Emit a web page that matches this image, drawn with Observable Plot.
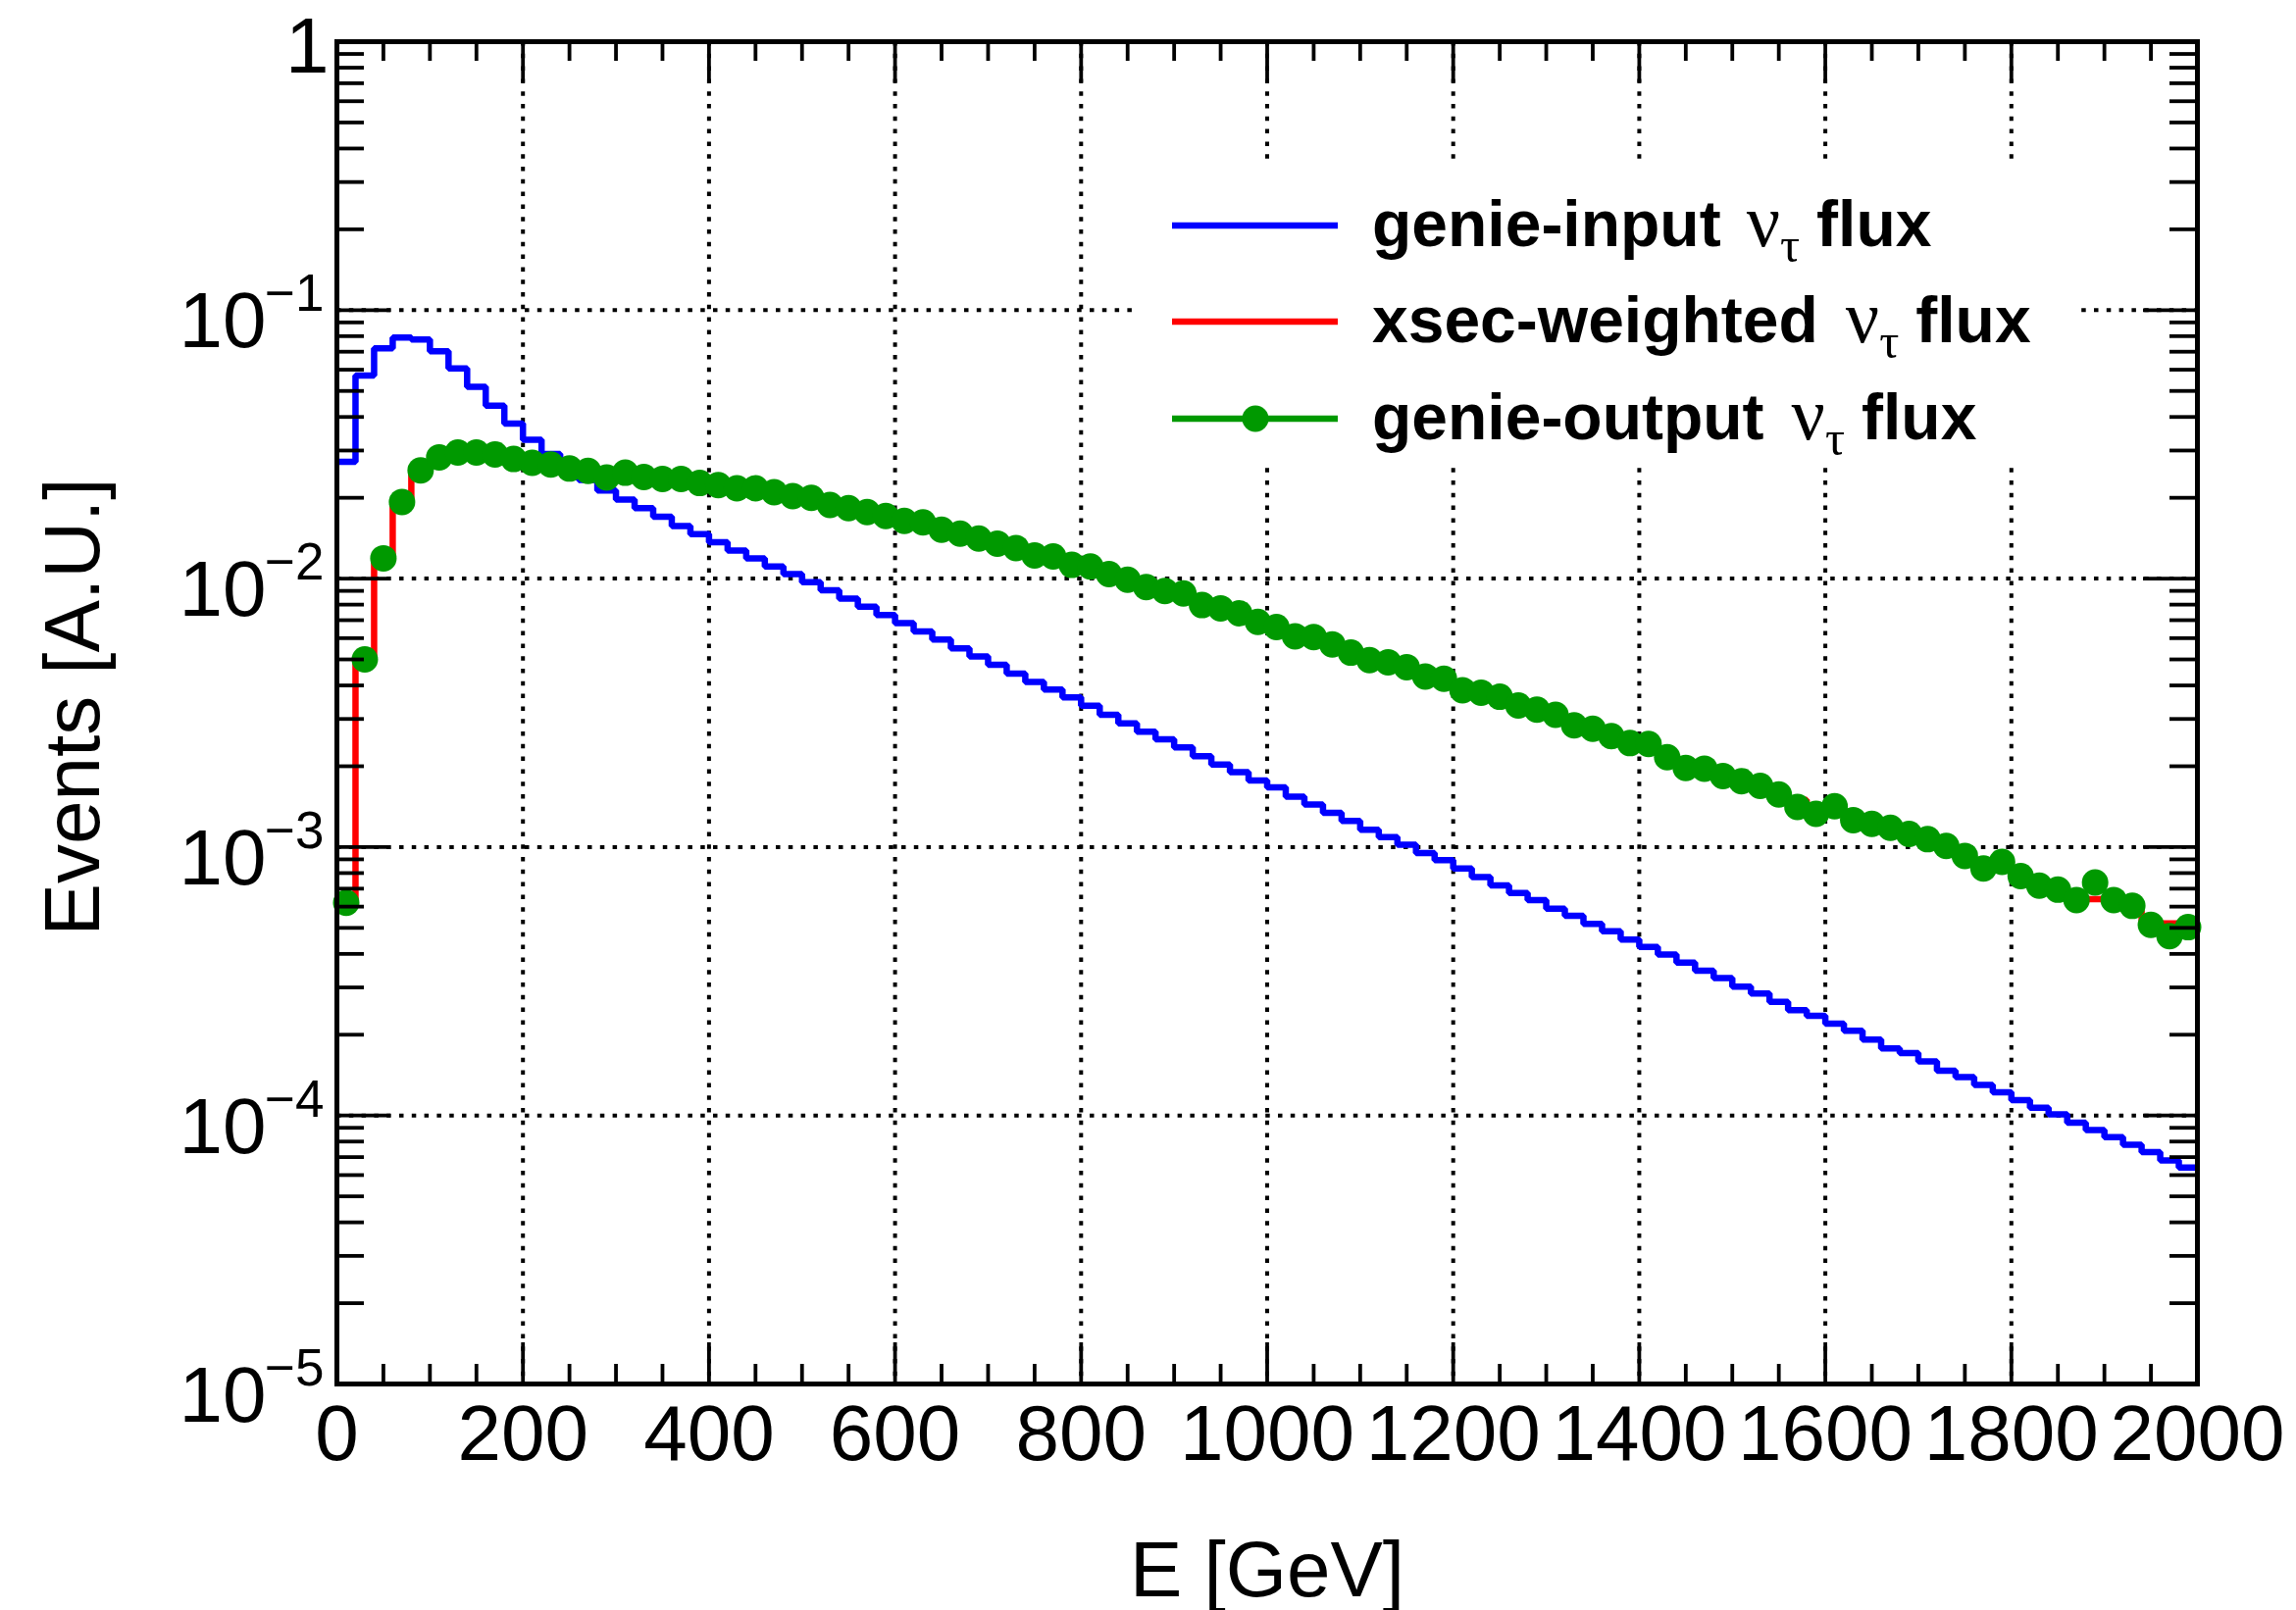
<!DOCTYPE html>
<html>
<head>
<meta charset="utf-8">
<script src="https://cdn.jsdelivr.net/npm/d3@7"></script>
<script src="https://cdn.jsdelivr.net/npm/@observablehq/plot@0.6"></script>
<style>
  html, body { margin: 0; padding: 0; background: #ffffff; }
  #chart svg { display: block; }
</style>
</head>
<body>
<div id="chart"></div>
<script>
// Energy binning: 100 bins of 20 GeV between 0 and 2000 GeV
const binWidth = 20;
const eMax = 2000;
const binLow = d3.range(0, eMax, binWidth);

// genie-input nu_tau flux (histogram, per bin)
const genieInput = [
  0.0272, 0.0571, 0.0721, 0.0790, 0.0778, 0.0703, 0.0606, 0.0518, 0.0441, 0.0378,
  0.0329, 0.0291, 0.0261, 0.0233, 0.0213, 0.0197, 0.0183, 0.0170, 0.0157, 0.01465,
  0.01365, 0.01273, 0.01188, 0.0111, 0.0104, 0.0097, 0.00904, 0.00843, 0.00786, 0.00732,
  0.00683, 0.00636, 0.00593, 0.0055, 0.00513, 0.00477, 0.00443, 0.00412, 0.00386, 0.00361,
  0.00336, 0.00311, 0.00289, 0.00269, 0.00252, 0.00235, 0.00218, 0.00203, 0.0019, 0.00177,
  0.00167, 0.00154, 0.00144, 0.00134, 0.00125, 0.00116, 0.00109, 0.00102, 0.00095, 0.000893,
  0.000833, 0.000773, 0.00072, 0.000675, 0.000635, 0.00059, 0.000555, 0.000517, 0.000486, 0.000452,
  0.000425, 0.000398, 0.000371, 0.000346, 0.000325, 0.000302, 0.000285, 0.000265, 0.000247, 0.000235,
  0.00022, 0.000207, 0.000192, 0.000178, 0.000171, 0.000159, 0.000147, 0.000139, 0.00013, 0.000122,
  0.000114, 0.000107, 0.000101, 0.0000941, 0.0000883, 0.000083, 0.0000778, 0.000073, 0.0000681, 0.000064
];

// cross-section weighted nu_tau flux (histogram, per bin)
const xsecWeighted = [
  0.00060, 0.0050, 0.0119, 0.0193, 0.0253, 0.0283, 0.0295, 0.0295, 0.0290, 0.0279,
  0.0270, 0.0266, 0.0257, 0.0252, 0.0238, 0.0248, 0.0239, 0.0235, 0.0235, 0.0227,
  0.0223, 0.0217, 0.0217, 0.0210, 0.0203, 0.0200, 0.0188, 0.0183, 0.0177, 0.0171,
  0.0164, 0.0162, 0.0152, 0.0147, 0.0141, 0.0135, 0.0130, 0.0122, 0.0121, 0.01125,
  0.0111, 0.0104, 0.0099, 0.0093, 0.0090, 0.0088, 0.00797, 0.00775, 0.00743, 0.0069,
  0.0066, 0.0061, 0.00606, 0.00569, 0.0053, 0.00497, 0.00488, 0.00468, 0.00432, 0.00424,
  0.00384, 0.00376, 0.00363, 0.00337, 0.00325, 0.00311, 0.00284, 0.00276, 0.00259, 0.00244,
  0.00242, 0.00216, 0.00197, 0.00196, 0.00184, 0.00176, 0.00169, 0.00157, 0.00150, 0.00137,
  0.00142, 0.00126, 0.00122, 0.00118, 0.00112, 0.00107, 0.00098, 0.000927, 0.000833, 0.000881,
  0.00078, 0.000718, 0.000694, 0.000635, 0.00064, 0.000635, 0.00058, 0.000513, 0.00052, 0.000503
];

// genie-output nu_tau flux (markers at bin centres)
const genieOutput = [
  0.00062, 0.0050, 0.0119, 0.0193, 0.0253, 0.0283, 0.0295, 0.0295, 0.0290, 0.0279,
  0.0270, 0.0266, 0.0257, 0.0252, 0.0238, 0.0248, 0.0239, 0.0235, 0.0235, 0.0227,
  0.0223, 0.0217, 0.0217, 0.0210, 0.0203, 0.0200, 0.0188, 0.0183, 0.0177, 0.0171,
  0.0164, 0.0162, 0.0152, 0.0147, 0.0141, 0.0135, 0.0130, 0.0122, 0.0121, 0.01125,
  0.0111, 0.0104, 0.0099, 0.0093, 0.0090, 0.0088, 0.00797, 0.00775, 0.00743, 0.0069,
  0.0066, 0.0061, 0.00606, 0.00569, 0.0053, 0.00497, 0.00488, 0.00468, 0.00432, 0.00424,
  0.00384, 0.00376, 0.00363, 0.00337, 0.00325, 0.00311, 0.00284, 0.00276, 0.00259, 0.00244,
  0.00242, 0.00216, 0.00197, 0.00196, 0.00184, 0.00176, 0.00169, 0.00157, 0.00141, 0.00133,
  0.00142, 0.00126, 0.00122, 0.00118, 0.00112, 0.00107, 0.00101, 0.000927, 0.000833, 0.000881,
  0.00078, 0.000718, 0.000694, 0.000635, 0.000738, 0.000635, 0.000604, 0.000513, 0.000466, 0.000503
];

// Axis ticks and labels
const xTickValues = [0, 200, 400, 600, 800, 1000, 1200, 1400, 1600, 1800, 2000];
const xTickLabels = ["0", "200", "400", "600", "800", "1000", "1200", "1400", "1600", "1800", "2000"];
const xGridValues = [200, 400, 600, 800, 1000, 1200, 1400, 1600, 1800];
const xMinorTicks = d3.range(0, eMax + 1, 50).filter(v => v % 200 !== 0);

const yDecades = [1, 1e-1, 1e-2, 1e-3, 1e-4, 1e-5];
const yTickBase = ["1", "10", "10", "10", "10", "10"];
const yTickExp = ["", "\u22121", "\u22122", "\u22123", "\u22124", "\u22125"];
const yGridValues = [1e-1, 1e-2, 1e-3, 1e-4];
const yMinorTicks = [];
for (let k = -5; k < 0; k++) for (let m = 2; m <= 9; m++) yMinorTicks.push(m * Math.pow(10, k));

const legendLabels = ["genie-input", "xsec-weighted", "genie-output"];

// Colours
const cBlue = "#0000ff", cRed = "#ff0000", cGreen = "#009900";

// Layout
const W = 2341, H = 1642;
const mL = 343, mR = 101, mT = 42, mB = 231;
const frameW = W - mL - mR, frameH = H - mT - mB;
const sans = "'Liberation Sans', Arial, Helvetica, sans-serif";
const serif = "'Liberation Serif', 'Times New Roman', serif";

// Histogram outline: one vertex per bin low edge, closed at the upper edge
function outline(values) {
  const pts = binLow.map((x, i) => ({x, y: values[i]}));
  pts.push({x: eMax, y: values[values.length - 1]});
  return pts;
}
const outputPoints = binLow.map((x, i) => ({x: x + binWidth / 2, y: genieOutput[i]}));

const grid = {stroke: "#000", strokeWidth: 4, strokeDasharray: "4.5,8.3"};
const tick = {stroke: "#000", strokeWidth: 3.8};
const histLine = {x: "x", y: "y", curve: "step-after", strokeWidth: 6.5, strokeLinejoin: "miter", strokeLinecap: "butt"};

const chart = Plot.plot({
  width: W,
  height: H,
  marginLeft: mL, marginRight: mR, marginTop: mT, marginBottom: mB,
  x: {domain: [0, eMax], axis: null},
  y: {type: "log", domain: [1e-5, 1], axis: null},
  style: {background: "#ffffff", fontFamily: sans, fontSize: "80px", color: "#000", overflow: "visible"},
  marks: [
    // dotted grid
    Plot.ruleX(xGridValues, {x: d => d, ...grid}),
    Plot.ruleY(yGridValues, {y: d => d, ...grid}),

    // histograms and markers
    Plot.line(outline(genieInput), {...histLine, stroke: cBlue}),
    Plot.line(outline(xsecWeighted), {...histLine, stroke: cRed}),
    Plot.dot(outputPoints, {x: "x", y: "y", r: 13.5, fill: cGreen}),

    // frame
    Plot.frame({stroke: "#000", strokeWidth: 5}),

    // inward ticks on all four sides
    Plot.ruleX(xTickValues, {x: d => d, insetTop: frameH - 42, ...tick}),
    Plot.ruleX(xTickValues, {x: d => d, insetBottom: frameH - 42, ...tick}),
    Plot.ruleX(xMinorTicks, {x: d => d, insetTop: frameH - 20, ...tick}),
    Plot.ruleX(xMinorTicks, {x: d => d, insetBottom: frameH - 20, ...tick}),
    Plot.ruleY(yDecades, {y: d => d, insetRight: frameW - 55, ...tick}),
    Plot.ruleY(yDecades, {y: d => d, insetLeft: frameW - 55, ...tick}),
    Plot.ruleY(yMinorTicks, {y: d => d, insetRight: frameW - 28, ...tick}),
    Plot.ruleY(yMinorTicks, {y: d => d, insetLeft: frameW - 28, ...tick}),

    // x tick labels
    Plot.text(xTickValues, {x: d => d, text: (d, i) => xTickLabels[i], frameAnchor: "bottom", lineAnchor: "bottom", textAnchor: "middle", dy: 77, fontSize: 80}),

    // y tick labels: "1" and 10^n
    Plot.text(yDecades.slice(0, 1), {y: d => d, text: (d, i) => yTickBase[i], frameAnchor: "left", textAnchor: "end", lineAnchor: "bottom", dx: -8, dy: 31, fontSize: 80}),
    Plot.text(yDecades.slice(1), {y: d => d, text: (d, i) => yTickBase[i + 1], frameAnchor: "left", textAnchor: "end", lineAnchor: "bottom", dx: -72, dy: 38, fontSize: 80}),
    Plot.text(yDecades.slice(1), {y: d => d, text: (d, i) => yTickExp[i + 1], frameAnchor: "left", textAnchor: "end", lineAnchor: "bottom", dx: -13, dy: 1, fontSize: 53}),

    // axis titles
    Plot.text(["E [GeV]"], {text: d => d, frameAnchor: "bottom", textAnchor: "middle", lineAnchor: "bottom", dy: 216, fontSize: 80}),
    Plot.text(["Events [A.U.]"], {text: d => d, frameAnchor: "left", textAnchor: "middle", lineAnchor: "bottom", rotate: -90, dx: -243, dy: -6, fontSize: 80})
  ]
});

document.getElementById("chart").appendChild(chart);

// Legend box (white, borderless) in the upper right of the frame
const svg = d3.select(chart);
const legend = svg.append("g").attr("class", "legend").attr("text-anchor", "start");
legend.append("rect")
  .attr("x", 1160).attr("y", 170)
  .attr("width", 955).attr("height", 305)
  .attr("fill", "#ffffff");

const rows = [
  {label: legendLabels[0], color: cBlue, marker: false, gapNu: 26},
  {label: legendLabels[1], color: cRed, marker: false, gapNu: 28},
  {label: legendLabels[2], color: cGreen, marker: true, gapNu: 28}
];
const rowY = [230, 328, 427];

rows.forEach((r, i) => {
  const y = rowY[i];
  legend.append("line")
    .attr("x1", 1195).attr("x2", 1364)
    .attr("y1", y).attr("y2", y)
    .attr("stroke", r.color).attr("stroke-width", 6.5);
  if (r.marker) {
    legend.append("circle")
      .attr("cx", 1280).attr("cy", y).attr("r", 13.5)
      .attr("fill", r.color);
  }
  const t = legend.append("text")
    .attr("x", 1399).attr("y", y + 21)
    .attr("text-anchor", "start")
    .attr("font-family", sans).attr("font-weight", "bold")
    .attr("font-size", 66).attr("fill", "#000");
  t.append("tspan").text(r.label);
  t.append("tspan")
    .attr("dx", r.gapNu)
    .attr("font-family", serif).attr("font-weight", "normal").attr("font-size", 76)
    .text("\u03bd");
  t.append("tspan")
    .attr("dy", 16)
    .attr("font-family", serif).attr("font-weight", "normal").attr("font-size", 50)
    .text("\u03c4");
  t.append("tspan")
    .attr("dx", 17).attr("dy", -16)
    .text("flux");
});
</script>
</body>
</html>
